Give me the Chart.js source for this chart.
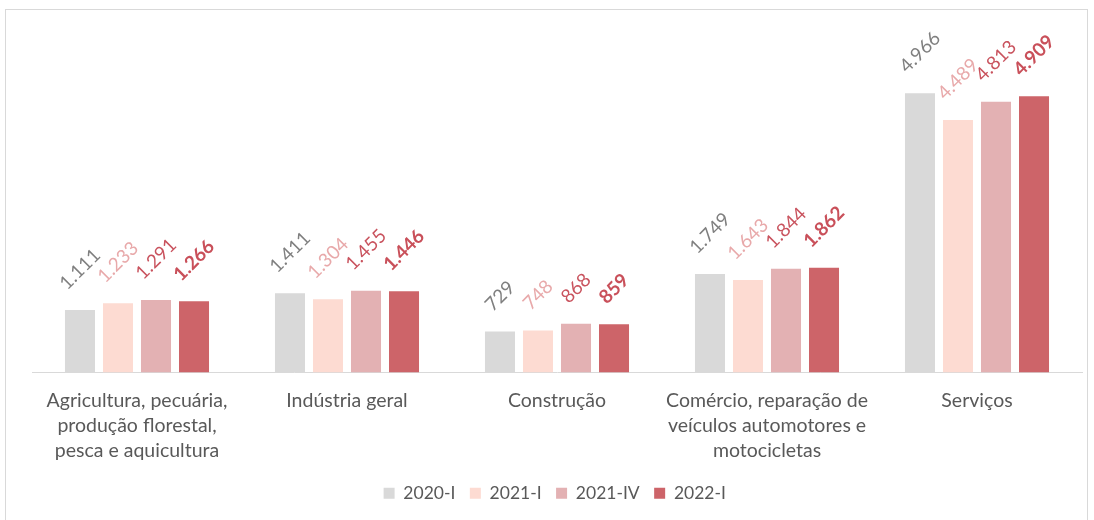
<!DOCTYPE html>
<html>
<head>
<meta charset="utf-8">
<script src="https://cdn.jsdelivr.net/npm/chart.js@4/dist/chart.umd.min.js"></script>
<style>
  html, body { margin: 0; padding: 0; background: #fff; }
  #wrap { position: relative; width: 1094px; height: 520px; overflow: hidden; }
  #frame { position: absolute; left: 5px; top: 9px; width: 1081px; height: 530px; border: 1px solid #d9d9d9; pointer-events: none; }
  canvas { position: absolute; left: 0; top: 0; }
</style>
</head>
<body>
<div id="wrap">
  <div id="frame"></div>
  <canvas id="chart" width="1094" height="520"></canvas>
</div>
<script>
  'use strict';

  const categories = [
    ['Agricultura, pecuária,', 'produção florestal,', 'pesca e aquicultura'],
    'Indústria geral',
    'Construção',
    ['Comércio, reparação de', 'veículos automotores e', 'motocicletas'],
    'Serviços'
  ];
  const seriesNames = ['2020-I', '2021-I', '2021-IV', '2022-I'];
  const v2020I  = [1111, 1411, 729, 1749, 4966];
  const v2021I  = [1233, 1304, 748, 1643, 4489];
  const v2021IV = [1291, 1455, 868, 1844, 4813];
  const v2022I  = [1266, 1446, 859, 1862, 4909];

  const BAR_COLORS   = ['#d9d9d9', '#fddbd2', '#e3b1b3', '#cd6469'];
  const LABEL_COLORS = ['#7f7f7f', '#e8a9aa', '#c9535e', '#c9505a'];
  const LABEL_BOLD   = [false, false, false, true];
  const FONT = 'Lato, "Open Sans", sans-serif';

  function fmt(n) {
    return String(n).replace(/\B(?=(\d{3})+(?!\d))/g, '.');
  }

  // rotated value labels above every bar
  const valueLabels = {
    id: 'valueLabels',
    afterDatasetsDraw(chart) {
      const ctx = chart.ctx;
      chart.data.datasets.forEach((ds, i) => {
        const meta = chart.getDatasetMeta(i);
        ctx.save();
        ctx.font = (LABEL_BOLD[i] ? 'bold ' : '') + '19px ' + FONT;
        ctx.fillStyle = LABEL_COLORS[i];
        ctx.textAlign = 'center';
        ctx.textBaseline = 'middle';
        meta.data.forEach((bar, j) => {
          const txt = fmt(ds.data[j]);
          const w = ctx.measureText(txt).width;
          const off = 18 + (w + 16) * 0.3535;
          ctx.save();
          ctx.translate(bar.x, bar.y - off);
          ctx.rotate(-Math.PI / 4);
          ctx.fillText(txt, 0, 0);
          ctx.restore();
        });
        ctx.restore();
      });
    }
  };

  const series = [v2020I, v2021I, v2021IV, v2022I];

  new Chart(document.getElementById('chart'), {
    type: 'bar',
    data: {
      labels: categories,
      datasets: series.map((d, i) => ({
        label: seriesNames[i],
        data: d,
        backgroundColor: BAR_COLORS[i],
        borderWidth: 0,
        barPercentage: 0.79,
        categoryPercentage: 0.724
      }))
    },
    options: {
      responsive: false,
      animation: false,
      layout: { padding: { top: 35, right: 12, bottom: 8, left: 32 } },
      scales: {
        x: {
          grid: { display: false, drawTicks: false },
          border: { display: true, color: '#d9d9d9', width: 1 },
          ticks: {
            color: '#595959', padding: 16, maxRotation: 0, autoSkip: false,
            font: { family: FONT, size: 19.5, lineHeight: 1.27 }
          },
          afterFit(scale) { scale.height = 102; }
        },
        y: { display: false, min: 0, max: 6000 }
      },
      plugins: {
        legend: {
          position: 'bottom',
          labels: {
            color: '#595959', boxWidth: 11, boxHeight: 11, padding: 10,
            font: { family: FONT, size: 17.5 },
            generateLabels(chart) {
              const items = Chart.defaults.plugins.legend.labels.generateLabels(chart);
              items.forEach(it => { it.text = it.text + ' '; });
              return items;
            }
          }
        },
        tooltip: { enabled: false }
      }
    },
    plugins: [valueLabels]
  });
</script>
</body>
</html>
